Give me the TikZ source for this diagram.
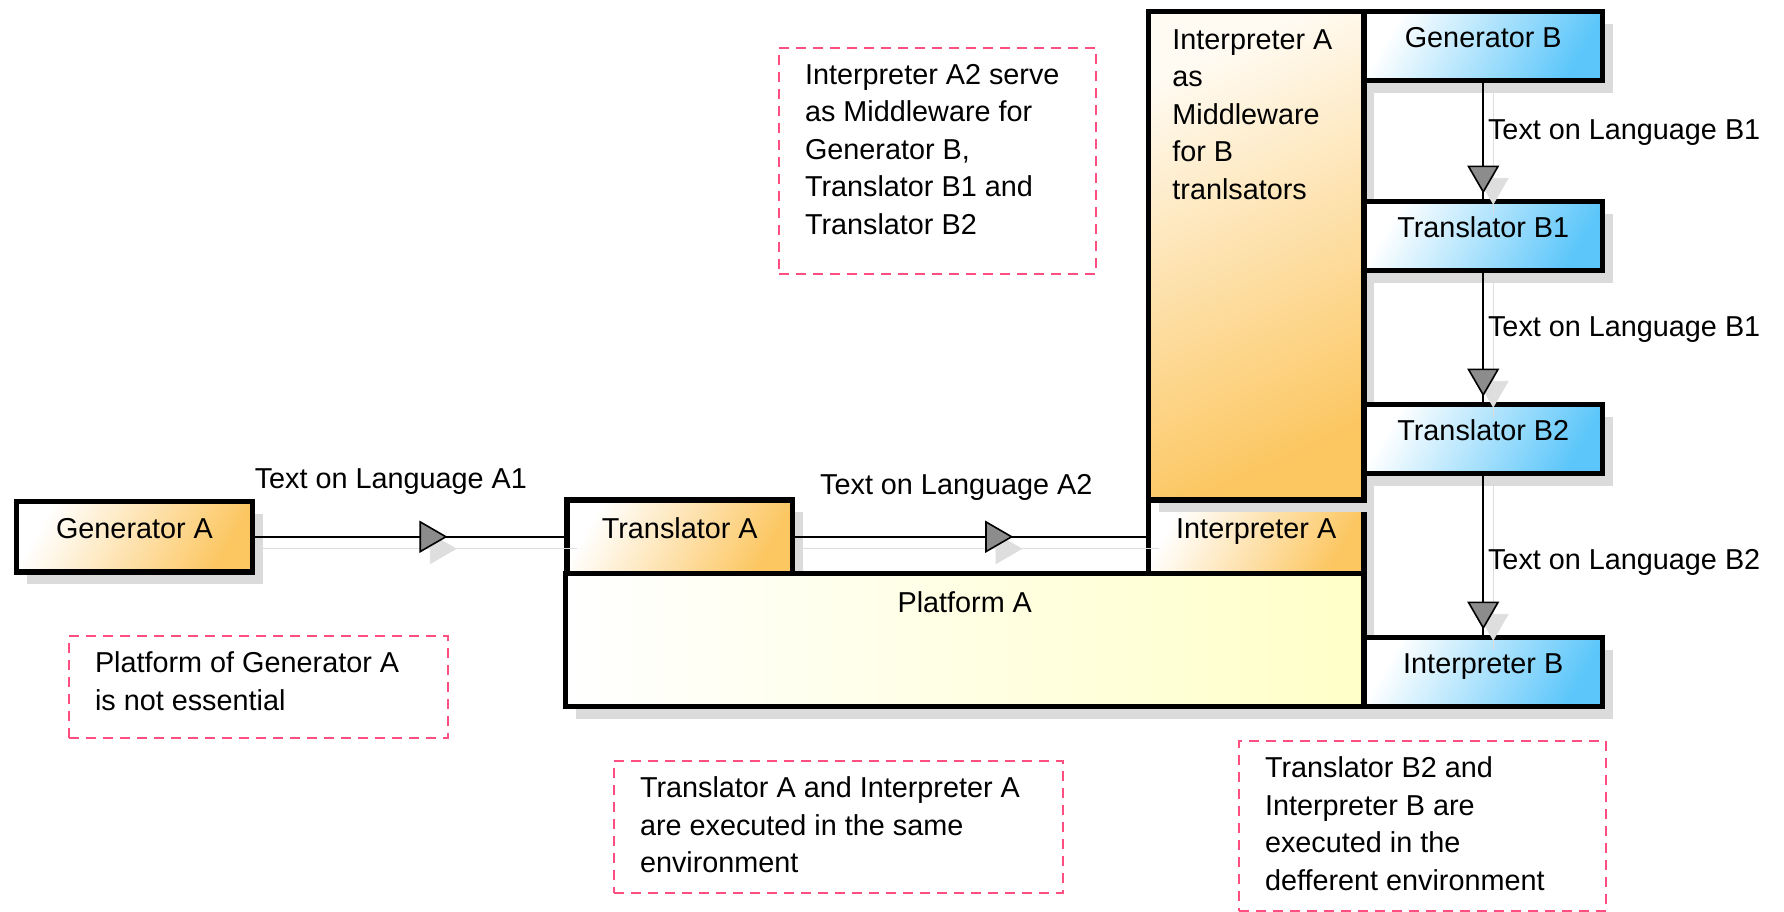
\documentclass[tikz,border=0pt]{standalone}
\usepackage{fontspec}
\setmainfont{Liberation Sans}
\usetikzlibrary{arrows.meta,positioning,shadows,decorations.markings}

\definecolor{orangeA}{RGB}{252,198,96}
\definecolor{blueB}{RGB}{92,198,250}
\definecolor{yellowA}{RGB}{255,255,200}
\definecolor{pinkN}{RGB}{255,78,128}

\newcommand{\notebody}[3]{\parbox[t][#1][t]{#2}{#3}}

\begin{document}
\begin{tikzpicture}[
        x=0.5pt, y=-0.5pt,
        font=\fontsize{14.4pt}{18.75pt}\selectfont,
        block/.style={rectangle, draw, line width=2.7pt, outer sep=0pt,
            text height=10pt, text depth=8.5pt,
            drop shadow={shadow xshift=5pt, shadow yshift=-6pt, fill=black!14, opacity=1}},
        ablock/.style={block, top color=white, bottom color=orangeA, shading angle=60},
        bblock/.style={block, minimum width=119.25pt, minimum height=34.5pt,
            top color=white, bottom color=blueB, shading angle=60},
        note/.style={draw=pinkN, line width=1pt, dash pattern=on 5pt off 3.5pt,
            anchor=north west, inner xsep=13pt, inner ysep=8pt},
        lbl/.style={inner sep=0pt},
        flowat/.style={line width=0.8pt,
            preaction={draw=black!13, transform canvas={shift={(5pt,-6pt)}},
                postaction={decorate, decoration={markings, mark=at position #1 with
                    {\arrow{Triangle[length=14pt,width=16pt,color=black!13,fill=black!13]}}}}},
            postaction={decorate, decoration={markings, mark=at position #1 with
                {\arrow{Triangle[length=14pt,width=16pt,fill=black!45]}}}}}
    ]

    \useasboundingbox (0,0) rectangle (1784,911);

    % platform A side
    \node[ablock, minimum width=107.75pt, minimum height=36.75pt] (intA) at (1256.25,536.75) {Interpreter A};
    \node[block, top color=orangeA!8, bottom color=orangeA, shading angle=25,
          minimum width=107.75pt, minimum height=244.25pt, above=0pt of intA,
          label={[lbl, anchor=north west, align=left, xshift=11.75pt, yshift=-8.75pt]north west:Interpreter A\\as\\Middleware\\for B\\tranlsators}] (mid) {};
    \node[ablock, minimum width=112.75pt, minimum height=36.75pt] (trA) at (679.75,536.75) {Translator A};
    \node[ablock, minimum width=118pt, minimum height=35.25pt] (genA) at (134.5,536.75) {Generator A};
    \node[block, left color=white, right color=yellowA, minimum width=399.25pt, minimum height=66.5pt,
          label={[lbl, anchor=north, yshift=-8.75pt]north:Platform A}] (plat) at (964.75,640) {};

    % B chain
    \node[bblock] (genB) at (1483.25,46) {Generator B};
    \node[bblock, below=60.5pt of genB] (trB1) {Translator B1};
    \node[bblock, below=67pt of trB1]  (trB2) {Translator B2};
    \node[bblock, below=82pt of trB2]  (intB) {Interpreter B};

    \draw[flowat=0.62] (genA) -- node[lbl, above=20.5pt, pos=0.44] {Text on Language A1} (trA);
    \draw[flowat=0.62] (trA)  -- node[lbl, above=17.5pt, pos=0.46] {Text on Language A2} (intA);
    \draw[flowat=-4pt] (genB) -- node[lbl, right=2pt, pos=0.43] {Text on Language B1} (trB1);
    \draw[flowat=-4pt] (trB1) -- node[lbl, right=2pt, pos=0.44] {Text on Language B1} (trB2);
    \draw[flowat=-4pt] (trB2) -- node[lbl, right=2pt, pos=0.54] {Text on Language B2} (intB);

    % notes
    \node[note] (noteGen) at (68,635)
        {\notebody{35pt}{163.5pt}{Platform of Generator A\\is not essential}};
    \node[note] (noteMid) at (778,47)
        {\notebody{97pt}{132.5pt}{Interpreter A2 serve\\as Middleware for\\Generator B,\\Translator B1 and\\Translator B2}};
    \node[note] (noteSame) at (613,760)
        {\notebody{50pt}{198.5pt}{Translator A and Interpreter A\\are executed in the same\\environment}};
    \node[note] (noteDiff) at (1238,740)
        {\notebody{69pt}{157.5pt}{Translator B2 and\\Interpreter B are\\executed in the\\defferent environment}};

\end{tikzpicture}
\end{document}
